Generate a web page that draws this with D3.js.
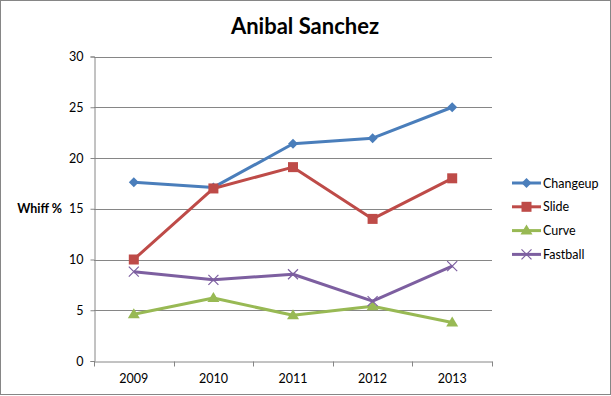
<!DOCTYPE html>
<html>
<head>
<meta charset="utf-8">
<script src="https://cdn.jsdelivr.net/npm/d3@7"></script>
<style>
  body { margin: 0; background: #fff; }
  svg { display: block; font-family: Lato, "Open Sans", sans-serif; }
</style>
</head>
<body>
<div id="chart"></div>
<script>
const years = ["2009", "2010", "2011", "2012", "2013"];
const yTicks = [0, 5, 10, 15, 20, 25, 30];
const changeup = [17.6, 17.1, 21.4, 21.95, 25.0];
const slide = [10.0, 17.0, 19.1, 14.0, 18.0];
const curve = [4.6, 6.2, 4.5, 5.4, 3.8];
const fastball = [8.8, 8.0, 8.55, 5.9, 9.35];

const series = [
  { name: "Changeup", values: changeup, color: "#4a7ebb", marker: "diamond" },
  { name: "Slide", values: slide, color: "#be4b48", marker: "square" },
  { name: "Curve", values: curve, color: "#98b954", marker: "triangle" },
  { name: "Fastball", values: fastball, color: "#7d5fa0", marker: "x" },
];

const width = 611, height = 396;
const margin = { top: 56.5, right: 119, bottom: 35, left: 94 };

const svg = d3.select("#chart").append("svg")
  .attr("width", width)
  .attr("height", height);

svg.append("rect")
  .attr("x", 0.5).attr("y", 0.5)
  .attr("width", width - 1).attr("height", height - 2)
  .attr("fill", "#fff")
  .attr("stroke", "#868686");

const x = d3.scaleBand()
  .domain(years)
  .range([margin.left, width - margin.right]);

const y = d3.scaleLinear()
  .domain([0, 30])
  .range([height - margin.bottom, margin.top]);

// gridlines
svg.append("g")
  .selectAll("line")
  .data(yTicks.filter((d) => d > 0))
  .enter()
  .append("line")
  .attr("x1", margin.left)
  .attr("x2", width - margin.right)
  .attr("y1", (d) => Math.round(y(d)) + 0.5)
  .attr("y2", (d) => Math.round(y(d)) + 0.5)
  .attr("stroke", "#868686");

// y axis
const yAxis = svg.append("g")
  .attr("transform", `translate(${Math.round(margin.left) + 0.5},0)`)
  .call(d3.axisLeft(y).tickValues(yTicks).tickSize(4).tickPadding(7))
  .call((g) => g.select(".domain").attr("stroke", "#868686"));
yAxis.selectAll(".tick line").attr("stroke", "#868686");
yAxis.selectAll(".tick text")
  .attr("fill", "#000")
  .style("font-size", "12.5px")
  .style("font-family", "Lato, sans-serif");

// x axis
const xAxis = svg.append("g")
  .attr("transform", `translate(0,${Math.round(y(0)) + 0.5})`)
  .call(d3.axisBottom(x).tickSize(0).tickPadding(13))
  .call((g) => g.select(".domain").attr("stroke", "#868686"));
xAxis.selectAll(".tick text")
  .attr("fill", "#000")
  .style("font-size", "12.5px")
  .style("font-family", "Lato, sans-serif");
xAxis.selectAll(".sep")
  .data(years.concat(["end"]))
  .enter()
  .append("line")
  .attr("class", "sep")
  .attr("x1", (d, i) => Math.round(margin.left + i * x.bandwidth()) + 0.5)
  .attr("x2", (d, i) => Math.round(margin.left + i * x.bandwidth()) + 0.5)
  .attr("y1", 0)
  .attr("y2", 5)
  .attr("stroke", "#868686");

// title
svg.append("text")
  .attr("x", 305)
  .attr("y", 34)
  .attr("text-anchor", "middle")
  .style("font-size", "22px")
  .style("font-weight", "bold")
  .text("Anibal Sanchez");

// y label
svg.append("text")
  .attr("x", 62)
  .attr("y", y(15) + 4)
  .attr("text-anchor", "end")
  .style("font-size", "12.5px")
  .style("font-weight", "bold")
  .text("Whiff %");

function drawMarker(g, type, color, cx, cy) {
  if (type === "diamond") {
    g.append("path")
      .attr("d", `M${cx},${cy - 5}L${cx + 5},${cy}L${cx},${cy + 5}L${cx - 5},${cy}Z`)
      .attr("fill", color);
  } else if (type === "square") {
    g.append("rect")
      .attr("x", cx - 5).attr("y", cy - 5)
      .attr("width", 10).attr("height", 10)
      .attr("fill", color);
  } else if (type === "triangle") {
    g.append("path")
      .attr("d", `M${cx},${cy - 6}L${cx + 6},${cy + 4}L${cx - 6},${cy + 4}Z`)
      .attr("fill", color);
  } else {
    g.append("path")
      .attr("d", `M${cx - 5},${cy - 5}L${cx + 5},${cy + 5}M${cx - 5},${cy + 5}L${cx + 5},${cy - 5}`)
      .attr("stroke", color)
      .attr("stroke-width", 1.2)
      .attr("fill", "none");
  }
}

const line = d3.line()
  .x((d, i) => x(years[i]) + x.bandwidth() / 2)
  .y((d) => y(d));

const plot = svg.append("g");
series.forEach((s) => {
  plot.append("path")
    .datum(s.values)
    .attr("d", line)
    .attr("fill", "none")
    .attr("stroke", s.color)
    .attr("stroke-width", 3)
    .attr("stroke-linejoin", "round");
  s.values.forEach((v, i) => {
    drawMarker(plot, s.marker, s.color, x(years[i]) + x.bandwidth() / 2, y(v));
  });
});

// legend
const legend = svg.append("g").attr("transform", "translate(512,183)");
series.forEach((s, i) => {
  const g = legend.append("g").attr("transform", `translate(0,${i * 23.8})`);
  g.append("line")
    .attr("x1", 0).attr("x2", 29)
    .attr("y1", 0).attr("y2", 0)
    .attr("stroke", s.color)
    .attr("stroke-width", 3);
  drawMarker(g, s.marker, s.color, 14.5, 0);
  g.append("text")
    .attr("x", 31)
    .attr("y", 4.5)
    .style("font-size", "12.5px")
    .text(s.name);
});
</script>
</body>
</html>
